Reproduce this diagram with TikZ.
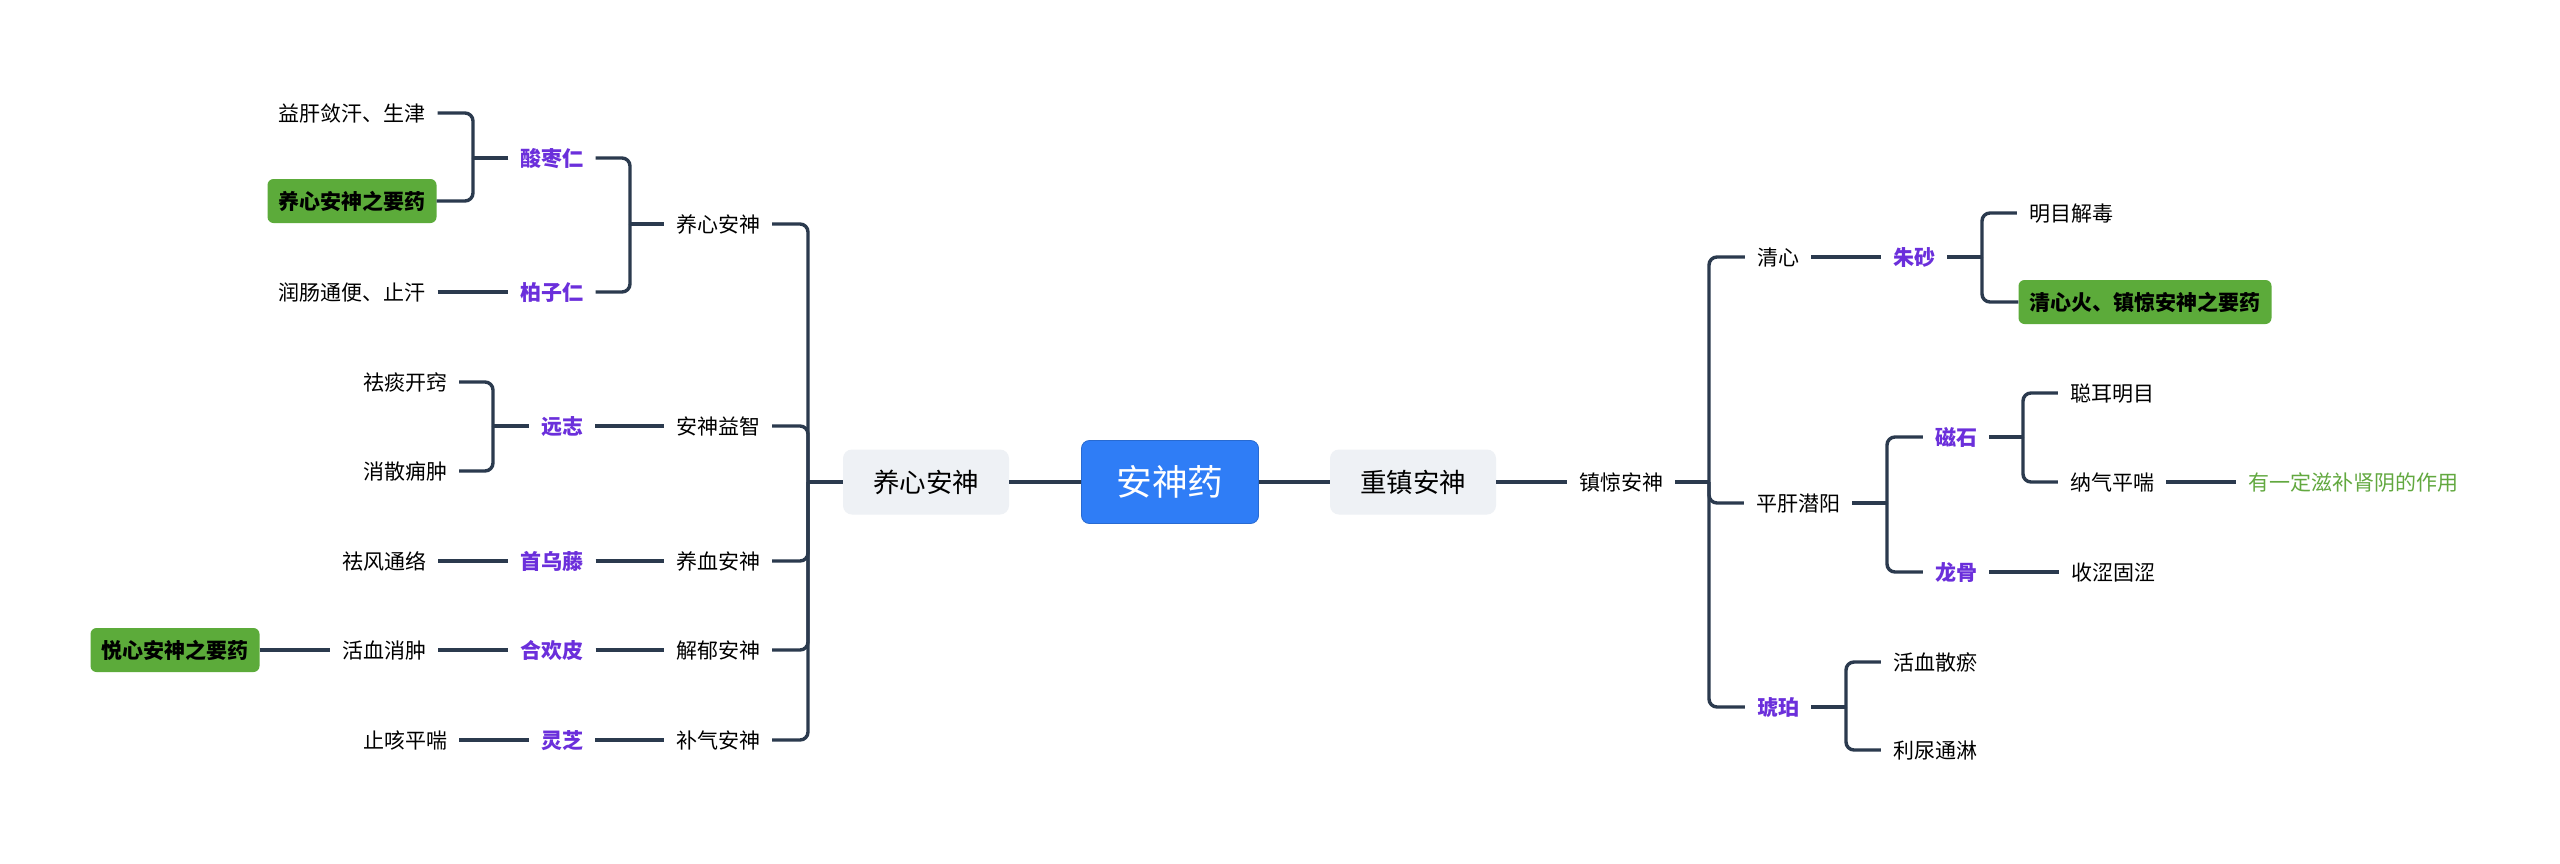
\documentclass[tikz,border=0pt]{standalone}
\usepackage{fontspec}
\setmainfont{Noto Sans CJK SC}
\definecolor{lnc}{HTML}{2B3A4E}
\definecolor{herbc}{HTML}{6B2FDB}
\definecolor{gboxc}{HTML}{5CAB3A}
\definecolor{gtxtc}{HTML}{62A83F}
\definecolor{grayc}{HTML}{EEF1F5}
\definecolor{bluec}{HTML}{2F7DF6}
\begin{document}
\begin{tikzpicture}[x=1pt,y=-1pt,
  txt/.style={font=\fontsize{21}{25}\selectfont, text height=18.5pt, text depth=2.5pt, inner xsep=12pt, inner ysep=0pt},
  herb/.style={txt, text=herbc, font=\fontsize{21}{25}\selectfont\bfseries},
  note/.style={txt, text=gtxtc},
  keybox/.style={font=\fontsize{21}{25}\selectfont\bfseries, text height=18.5pt, text depth=2.5pt, fill=gboxc, rounded corners=6pt, inner xsep=11pt, inner ysep=0pt, minimum height=44pt},
  midbox/.style={font=\fontsize{26.5}{30}\selectfont, text height=23.3pt, text depth=3.2pt, fill=grayc, rounded corners=9pt, inner xsep=30pt, inner ysep=0pt, minimum height=65pt},
  rootbox/.style={font=\fontsize{35.7}{40}\selectfont, text height=31.4pt, text depth=4.3pt, text=white, fill=bluec, draw=bluec!85!black, line width=0.8pt, rounded corners=8pt, inner xsep=35pt, inner ysep=0pt, minimum height=83pt},
  conn/.style={draw=lnc, line width=3.4pt},
  brk/.style={conn, rounded corners=8pt}
]
\fill[white] (0,0) rectangle (2560,863);
\useasboundingbox (0,0) rectangle (2560,863);

% ---- left tree ----
\node[txt] (a1) at (352,113) {益肝敛汗、生津};
\node[keybox] (a2) at (352,201) {养心安神之要药};
\node[txt] (a3) at (352,292) {润肠通便、止汗};
\node[herb] (b1) at (552,158) {酸枣仁};
\node[herb] (b2) at (552,292) {柏子仁};
\node[txt] (c1) at (718,224) {养心安神};
\node[txt] (d1) at (405,382) {祛痰开窍};
\node[txt] (d2) at (405,471) {消散痈肿};
\node[herb] (e1) at (562,426) {远志};
\node[txt] (c2) at (718,426) {安神益智};
\node[txt] (f1) at (384,561) {祛风通络};
\node[herb] (g1) at (552,561) {首乌藤};
\node[txt] (c3) at (718,561) {养血安神};
\node[keybox] (h0) at (175,650) {悦心安神之要药};
\node[txt] (h1) at (384,650) {活血消肿};
\node[herb] (i1) at (552,650) {合欢皮};
\node[txt] (c4) at (718,650) {解郁安神};
\node[txt] (j1) at (405,740) {止咳平喘};
\node[herb] (k1) at (562,740) {灵芝};
\node[txt] (c5) at (718,740) {补气安神};

% ---- centre ----
\node[midbox] (L) at (926,482) {养心安神};
\node[rootbox] (root) at (1170,482) {安神药};
\node[midbox] (R) at (1413,482) {重镇安神};

% ---- right tree ----
\node[txt] (m) at (1621,482) {镇惊安神};
\node[txt] (n1) at (1778,257) {清心};
\node[herb] (o1) at (1914,257) {朱砂};
\node[txt] (p1) at (2071,213) {明目解毒};
\node[keybox] (p2) at (2145,302) {清心火、镇惊安神之要药};
\node[txt] (n2) at (1798,503) {平肝潜阳};
\node[herb] (q1) at (1956,437) {磁石};
\node[txt] (r1) at (2112,393) {聪耳明目};
\node[txt] (r2) at (2112,482) {纳气平喘};
\node[note] (s1) at (2353,482) {有一定滋补肾阴的作用};
\node[herb] (q2) at (1956,572) {龙骨};
\node[txt] (r3) at (2113,572) {收涩固涩};
\node[herb] (n3) at (1778,707) {琥珀};
\node[txt] (t1) at (1935,662) {活血散瘀};
\node[txt] (t2) at (1935,750) {利尿通淋};

% ---- junctions ----
\coordinate (jA) at (473,158);
\coordinate (jB) at (630,224);
\coordinate (jC) at (493,426);
\coordinate (jL) at (808,482);
\coordinate (jM) at (1709,482);
\coordinate (jO) at (1982,257);
\coordinate (jN) at (1887,503);
\coordinate (jQ) at (2023,437);
\coordinate (jP) at (1846,707);

% ---- connectors left ----
\draw[conn] (b1.west) -- (jA);
\draw[brk] (jA) |- (a1.east);
\draw[brk] (jA) |- (a2.east);
\draw[conn] (a3.east) -- (b2.west);
\draw[conn] (c1.west) -- (jB);
\draw[brk] (jB) |- (b1.east);
\draw[brk] (jB) |- (b2.east);
\draw[conn] (e1.west) -- (jC);
\draw[brk] (jC) |- (d1.east);
\draw[brk] (jC) |- (d2.east);
\draw[conn] (e1.east) -- (c2.west);
\draw[conn] (f1.east) -- (g1.west);
\draw[conn] (g1.east) -- (c3.west);
\draw[conn] (h0.east) -- (h1.west);
\draw[conn] (h1.east) -- (i1.west);
\draw[conn] (i1.east) -- (c4.west);
\draw[conn] (j1.east) -- (k1.west);
\draw[conn] (k1.east) -- (c5.west);
\draw[conn] (L.west) -- (jL);
\draw[brk] (jL) |- (c1.east);
\draw[brk] (jL) |- (c2.east);
\draw[brk] (jL) |- (c3.east);
\draw[brk] (jL) |- (c4.east);
\draw[brk] (jL) |- (c5.east);

% ---- centre connectors ----
\draw[conn] (L.east) -- (root.west);
\draw[conn] (root.east) -- (R.west);
\draw[conn] (R.east) -- (m.west);

% ---- connectors right ----
\draw[conn] (m.east) -- (jM);
\draw[brk] (jM) |- (n1.west);
\draw[brk] (jM) |- (n2.west);
\draw[brk] (jM) |- (n3.west);
\draw[conn] (n1.east) -- (o1.west);
\draw[conn] (o1.east) -- (jO);
\draw[brk] (jO) |- (p1.west);
\draw[brk] (jO) |- (p2.west);
\draw[conn] (n2.east) -- (jN);
\draw[brk] (jN) |- (q1.west);
\draw[brk] (jN) |- (q2.west);
\draw[conn] (q1.east) -- (jQ);
\draw[brk] (jQ) |- (r1.west);
\draw[brk] (jQ) |- (r2.west);
\draw[conn] (r2.east) -- (s1.west);
\draw[conn] (q2.east) -- (r3.west);
\draw[conn] (n3.east) -- (jP);
\draw[brk] (jP) |- (t1.west);
\draw[brk] (jP) |- (t2.west);
\end{tikzpicture}
\end{document}
